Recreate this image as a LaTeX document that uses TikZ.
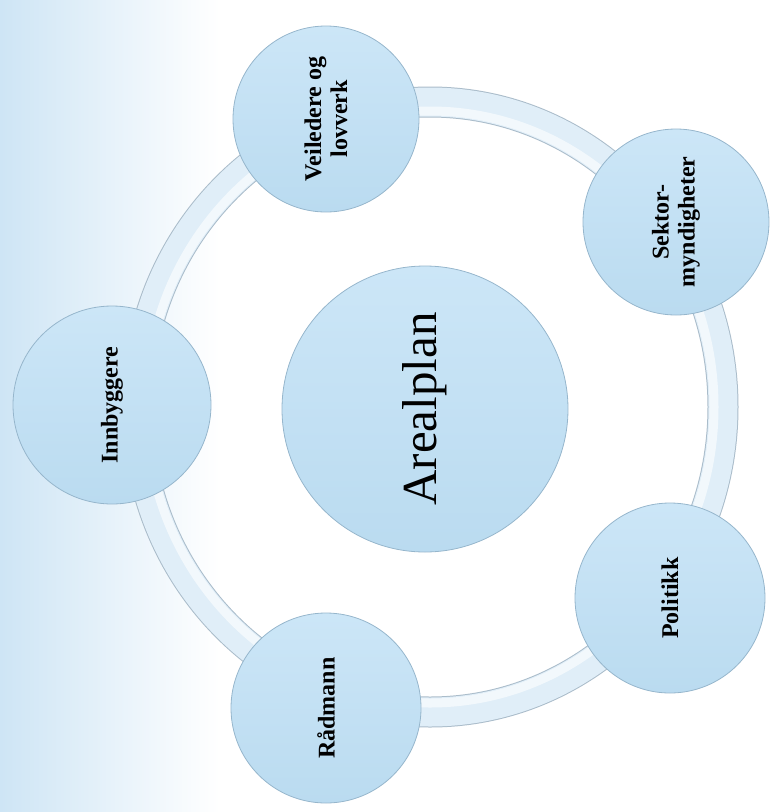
\documentclass[tikz,border=0pt]{standalone}
\usepackage{fontspec}
\setmainfont{Liberation Serif}
\usepackage{tikz}
\definecolor{disc}{RGB}{186,219,240}
\definecolor{disclight}{RGB}{204,230,247}
\definecolor{discedge}{RGB}{150,182,204}
\definecolor{ringfill}{RGB}{224,238,248}
\definecolor{ringedge}{RGB}{170,188,202}
\definecolor{backblue}{RGB}{206,229,245}

\tikzset{
  part/.style={circle, draw=discedge, line width=0.8pt,
    top color=disclight, bottom color=disc,
    minimum size=186pt, inner sep=0pt, rotate=90, align=center,
    font=\fontsize{24}{26}\selectfont\bfseries},
  hub/.style={part, minimum size=286pt,
    font=\fontsize{49}{54}\selectfont}
}

\begin{document}
\begin{tikzpicture}[x=1pt,y=-1pt]
  \useasboundingbox (0,0) rectangle (775,812);
  \shade[left color=backblue, right color=white] (0,0) rectangle (220,812);

  % ring behind the parts
  \draw[ringedge, line width=31pt] (430,407) ellipse [x radius=293, y radius=305];
  \draw[ringfill, line width=29pt] (430,407) ellipse [x radius=293, y radius=305];
  \draw[white, opacity=.6, line width=9pt] (430,407) ellipse [x radius=284, y radius=296];

  \node[hub] (plan) at (425,409) {Arealplan};

  \node[part] (veil) at (326,119) {Veiledere og\\lovverk};
  \node[part] (sektor) at (676,222) {Sektor-\\myndigheter};
  \node[part, minimum size=190pt] (politikk) at (670,598) {Politikk};
  \node[part, minimum size=190pt] (raadmann) at (326,708) {Rådmann};
  \node[part, minimum size=198pt] (innb) at (112,405) {Innbyggere};
\end{tikzpicture}
\end{document}
